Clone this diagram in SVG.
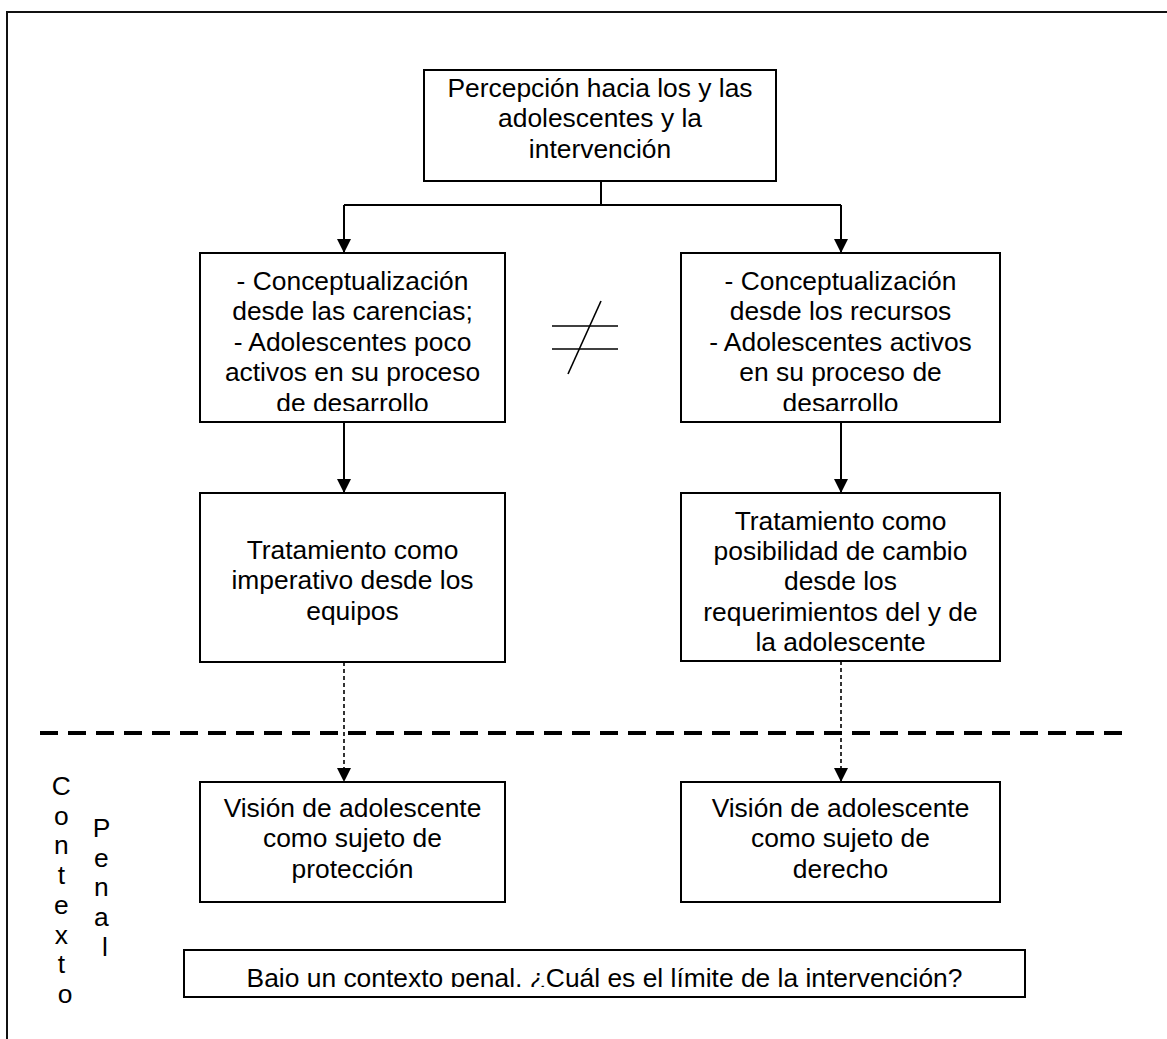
<svg xmlns="http://www.w3.org/2000/svg" width="1167" height="1039" viewBox="0 0 1167 1039">
  <style>
    .box { fill: #fff; stroke: #000; stroke-width: 2; }
    .t { font-family: "Liberation Sans", Arial, sans-serif; font-size: 26.4px; fill: #000; text-anchor: middle; }
    .conn { fill: none; stroke: #000; stroke-width: 2; }
    .dotted { stroke-width: 1.6; stroke-dasharray: 4 3; }
    .frame { fill: none; stroke: #111; stroke-width: 2; }
  </style>
  <defs>
    <marker id="arrow" markerUnits="userSpaceOnUse" viewBox="0 0 14 14" markerWidth="14" markerHeight="14" refX="14" refY="7" orient="auto">
      <path d="M0,0 L14,7 L0,14 z" fill="#000"/>
    </marker>
    <!-- text areas of boxes whose last line overflows the box -->
    <clipPath id="clip-carencias"><rect x="200" y="253" width="305" height="158"/></clipPath>
    <clipPath id="clip-recursos"><rect x="681" y="253" width="319" height="158"/></clipPath>
    <clipPath id="clip-cambio"><rect x="681" y="493" width="319" height="158"/></clipPath>
    <clipPath id="clip-limite"><rect x="184" y="950" width="841" height="37"/></clipPath>
  </defs>

  <rect class="frame" x="7" y="12" width="1200" height="1100"/>

  <!-- connectors -->
  <g id="connectors">
    <path class="conn" d="M601,181 V205"/>
    <path class="conn" d="M344,205 H841"/>
    <path class="conn" d="M344,205 V253" marker-end="url(#arrow)"/>
    <path class="conn" d="M841,205 V253" marker-end="url(#arrow)"/>
    <path class="conn" d="M344,422 V493" marker-end="url(#arrow)"/>
    <path class="conn" d="M841,422 V493" marker-end="url(#arrow)"/>
    <path class="conn dotted" d="M344,662 V782" marker-end="url(#arrow)"/>
    <path class="conn dotted" d="M841,661 V782" marker-end="url(#arrow)"/>
  </g>

  <g id="n-top">
    <rect class="box" x="424" y="70" width="352" height="111"/>
    <text class="t" x="600" y="97">Percepción hacia los y las</text>
    <text class="t" x="600" y="127.4">adolescentes y la</text>
    <text class="t" x="600" y="157.8">intervención</text>
  </g>

  <g id="n-carencias">
    <rect class="box" x="200" y="253" width="305" height="169"/>
    <g clip-path="url(#clip-carencias)">
      <text class="t" x="352.5" y="290">- Conceptualización</text>
      <text class="t" x="352.5" y="320.4">desde las carencias;</text>
      <text class="t" x="352.5" y="350.8">- Adolescentes poco</text>
      <text class="t" x="352.5" y="381.2">activos en su proceso</text>
      <text class="t" x="352.5" y="411.6">de desarrollo</text>
    </g>
  </g>

  <g id="n-recursos">
    <rect class="box" x="681" y="253" width="319" height="169"/>
    <g clip-path="url(#clip-recursos)">
      <text class="t" x="840.5" y="290">- Conceptualización</text>
      <text class="t" x="840.5" y="320.4">desde los recursos</text>
      <text class="t" x="840.5" y="350.8">- Adolescentes activos</text>
      <text class="t" x="840.5" y="381.2">en su proceso de</text>
      <text class="t" x="840.5" y="411.6">desarrollo</text>
    </g>
  </g>

  <!-- not-equal sign between the two conceptions -->
  <g id="not-equal" fill="none" stroke="#000" stroke-width="1.6">
    <path d="M552,326 H618"/>
    <path d="M552,349 H618"/>
    <path d="M601,301 L568,374"/>
  </g>

  <g id="n-imperativo">
    <rect class="box" x="200" y="493" width="305" height="169"/>
    <text class="t" x="352.5" y="558.5">Tratamiento como</text>
    <text class="t" x="352.5" y="589">imperativo desde los</text>
    <text class="t" x="352.5" y="619.5">equipos</text>
  </g>

  <g id="n-cambio">
    <rect class="box" x="681" y="493" width="319" height="168"/>
    <g clip-path="url(#clip-cambio)">
      <text class="t" x="840.5" y="529.5">Tratamiento como</text>
      <text class="t" x="840.5" y="560">posibilidad de cambio</text>
      <text class="t" x="840.5" y="590.3">desde los</text>
      <text class="t" x="840.5" y="620.7">requerimientos del y de</text>
      <text class="t" x="840.5" y="651.2">la adolescente</text>
    </g>
  </g>

  <!-- boundary of the penal context -->
  <path id="separator" d="M40,733 H1127" fill="none" stroke="#000" stroke-width="4" stroke-dasharray="18 10"/>

  <g id="n-proteccion">
    <rect class="box" x="200" y="782" width="305" height="120"/>
    <text class="t" x="352.5" y="817">Visión de adolescente</text>
    <text class="t" x="352.5" y="847.4">como sujeto de</text>
    <text class="t" x="352.5" y="877.8">protección</text>
  </g>

  <g id="n-derecho">
    <rect class="box" x="681" y="782" width="319" height="120"/>
    <text class="t" x="840.5" y="817">Visión de adolescente</text>
    <text class="t" x="840.5" y="847.4">como sujeto de</text>
    <text class="t" x="840.5" y="877.8">derecho</text>
  </g>

  <g id="n-limite">
    <rect class="box" x="184" y="950" width="841" height="47"/>
    <g clip-path="url(#clip-limite)">
      <text class="t" x="604.5" y="986.5">Bajo un contexto penal, ¿Cuál es el límite de la intervención?</text>
    </g>
  </g>

  <!-- vertical side labels -->
  <g id="side-labels">
    <text class="t" x="65">
      <tspan x="65" y="795">C</tspan>
      <tspan x="65" y="824.7">o</tspan>
      <tspan x="65" y="854.4">n</tspan>
      <tspan x="65" y="884.1">t</tspan>
      <tspan x="65" y="913.8">e</tspan>
      <tspan x="65" y="943.5">x</tspan>
      <tspan x="65" y="973.2">t</tspan>
      <tspan x="65" y="1002.9">o</tspan>
    </text>
    <text class="t" x="105">
      <tspan x="105" y="837">P</tspan>
      <tspan x="105" y="866.7">e</tspan>
      <tspan x="105" y="896.4">n</tspan>
      <tspan x="105" y="926.1">a</tspan>
      <tspan x="105" y="955.8">l</tspan>
    </text>
  </g>
</svg>
